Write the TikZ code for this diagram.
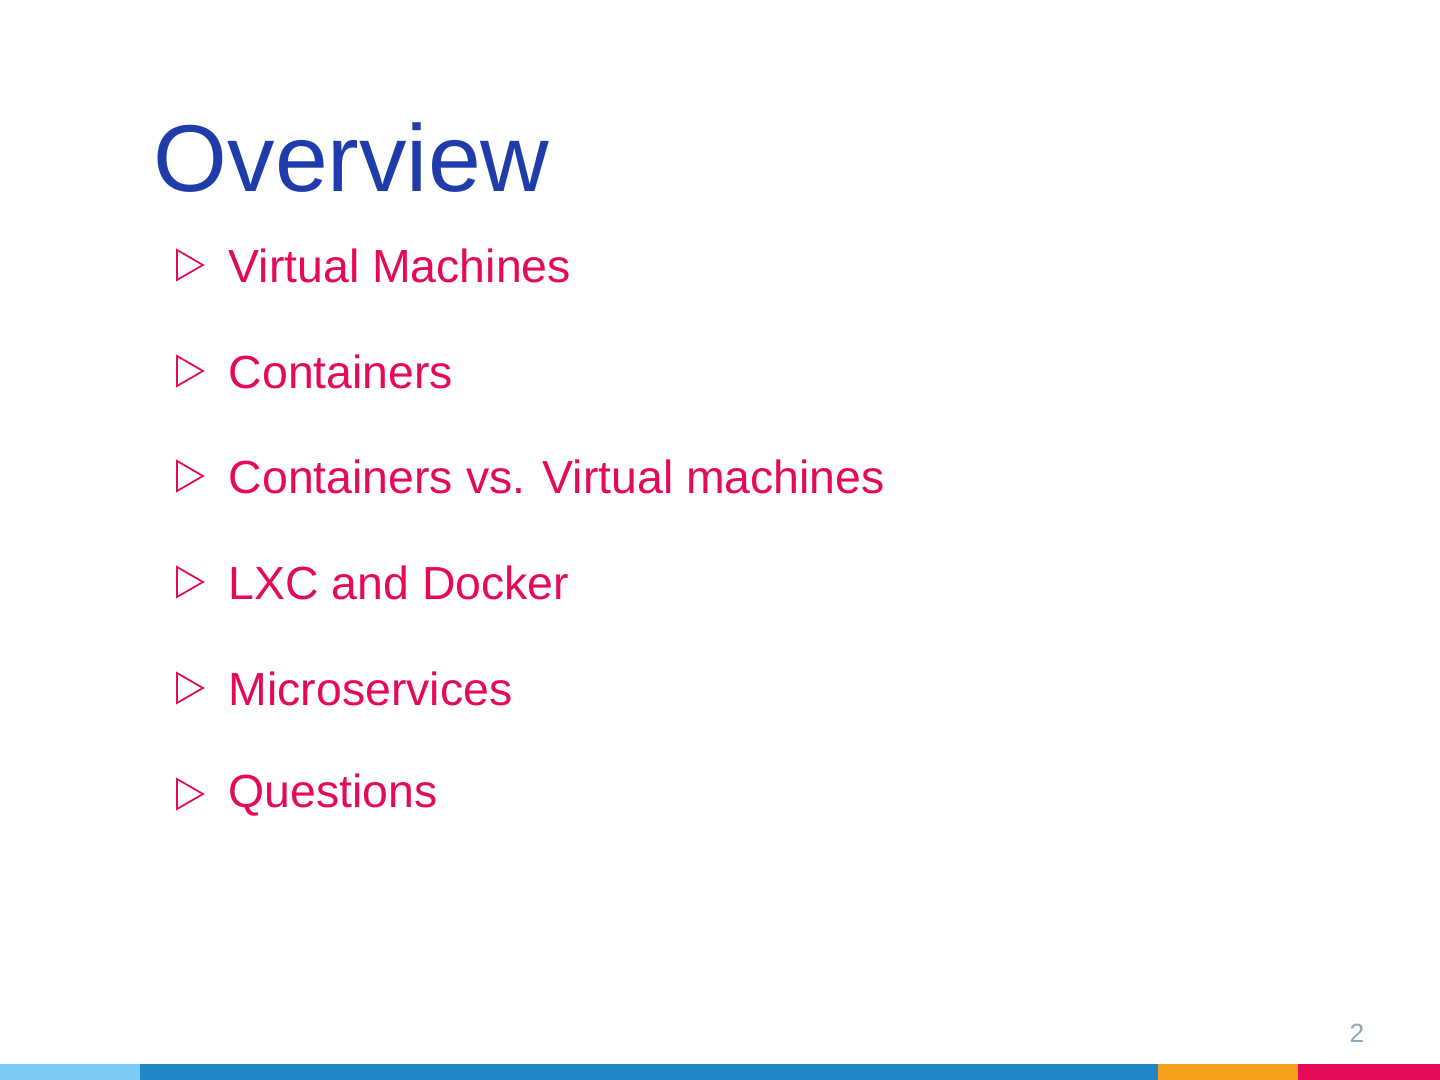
\documentclass[tikz,border=0pt]{standalone}
\usepackage{fontspec}
\setmainfont{Liberation Sans}
\definecolor{ttl}{HTML}{1F3CAA}
\definecolor{pk}{HTML}{E5095A}
\definecolor{lb}{HTML}{7CCBF5}
\definecolor{db}{HTML}{2286C7}
\definecolor{og}{HTML}{F7A01C}
\definecolor{pn}{HTML}{8EA6C0}
\begin{document}
\begin{tikzpicture}[x=0.01cm,y=-0.01cm,
  item/.style={anchor=west,text=pk,font=\fontsize{13.2}{15}\selectfont,inner sep=0pt},
  tri/.style={draw=pk,line width=0.5pt}]
\useasboundingbox (0,0) rectangle (1440,1080);
\node[anchor=west,text=ttl,font=\fontsize{27}{30}\selectfont,inner sep=0pt] (title) at (153,158) {Overview};
\foreach \y/\t [count=\i] in {266/Virtual Machines,372/Containers,477/Containers vs. Virtual machines,583/LXC and Docker,689/Microservices,795/Questions}{
  \draw[tri] (177,\y-16) -- (203,\y-1) -- (177,\y+14) -- cycle;
  \node[item] (it\i) at (228,\y) {\t};
}
\fill[lb] (0,1064) rectangle (140,1080);
\fill[db] (140,1064) rectangle (1158,1080);
\fill[og] (1158,1064) rectangle (1298,1080);
\fill[pk] (1298,1064) rectangle (1440,1080);
\node[text=pn,font=\fontsize{7.5}{9}\selectfont,inner sep=0pt] (pg) at (1357,1033) {2};
\end{tikzpicture}
\end{document}
